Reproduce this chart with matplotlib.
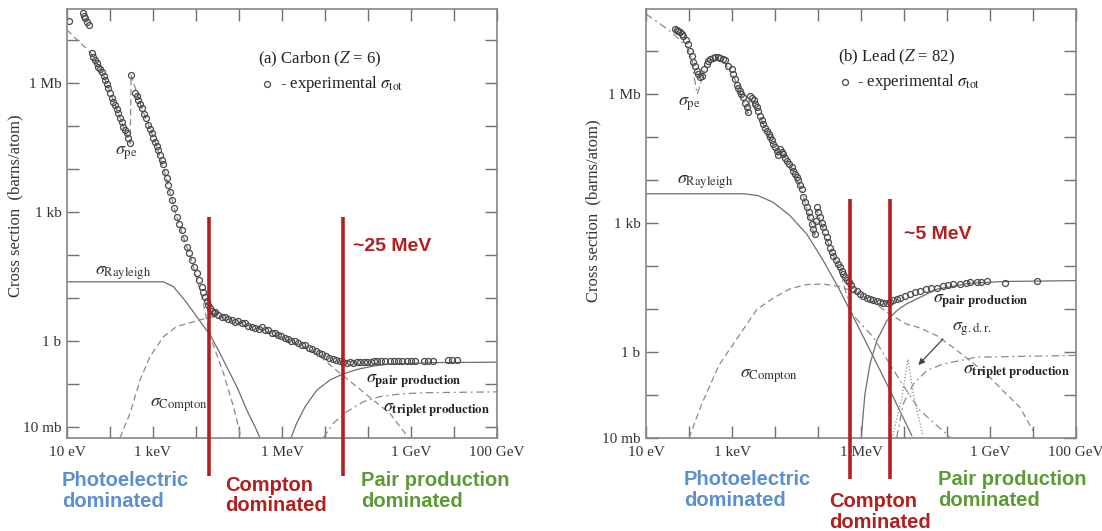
import matplotlib.pyplot as plt
import numpy as np

plt.rcParams['font.family'] = ['Liberation Serif', 'DejaVu Serif']
plt.rcParams['mathtext.fontset'] = 'stix'

# all values are log10(energy / eV) and log10(cross section / barn)

# ---- (a) carbon
c_tot_logE = [1.05, 1.37, 1.40, 1.42, 1.46, 1.50, 1.57, 1.61, 1.65, 1.69,
              1.73, 1.77, 1.81, 1.85, 1.88, 1.92, 1.96, 2.00, 2.04, 2.08,
              2.12, 2.16, 2.19, 2.23, 2.27, 2.31, 2.35, 2.39, 2.43, 2.47,
              2.49, 2.58, 2.62, 2.66, 2.70, 2.74, 2.79, 2.84, 2.89, 2.93,
              2.97, 3.01, 3.05, 3.09, 3.12, 3.16, 3.20, 3.24, 3.28, 3.32,
              3.36, 3.40, 3.44, 3.49, 3.55, 3.61, 3.67, 3.72, 3.78, 3.84,
              3.90, 3.96, 4.02, 4.07, 4.13, 4.17, 4.21, 4.25, 4.29, 4.33,
              4.37, 4.41, 4.45, 4.52, 4.60, 4.68, 4.75, 4.83, 4.90, 4.98,
              5.06, 5.14, 5.22, 5.30, 5.38, 5.46, 5.53, 5.60, 5.68, 5.76,
              5.84, 5.91, 5.98, 6.06, 6.14, 6.22, 6.30, 6.38, 6.46, 6.54,
              6.62, 6.70, 6.78, 6.86, 6.94, 7.02, 7.10, 7.18, 7.26, 7.34,
              7.42, 7.50, 7.58, 7.66, 7.74, 7.82, 7.90, 7.98, 8.06, 8.14,
              8.22, 8.30, 8.40, 8.50, 8.60, 8.70, 8.80, 8.90, 9.00, 9.10,
              9.30, 9.40, 9.50, 9.85, 9.95, 10.06]
c_tot_logS = [7.44, 7.61, 7.55, 7.50, 7.42, 7.34, 6.68, 6.60, 6.53, 6.45,
              6.37, 6.31, 6.26, 6.15, 6.06, 5.96, 5.87, 5.75, 5.64, 5.56,
              5.48, 5.38, 5.29, 5.19, 5.09, 4.98, 4.90, 4.82, 4.71, 4.59,
              6.18, 5.75, 5.68, 5.60, 5.50, 5.40, 5.28, 5.17, 5.02, 4.92,
              4.82, 4.72, 4.63, 4.53, 4.43, 4.32, 4.20, 4.10, 3.92, 3.78,
              3.62, 3.45, 3.27, 3.08, 2.88, 2.72, 2.57, 2.38, 2.19, 2.03,
              1.88, 1.72, 1.57, 1.41, 1.26, 1.14, 1.02, 0.92, 0.83, 0.76,
              0.70, 0.64, 0.66, 0.60, 0.55, 0.56, 0.50, 0.49, 0.44, 0.45,
              0.40, 0.41, 0.35, 0.33, 0.30, 0.28, 0.31, 0.24, 0.25, 0.19,
              0.18, 0.14, 0.12, 0.07, 0.05, 0.00, 0.00, -0.05, -0.09, -0.11,
              -0.16, -0.19, -0.23, -0.28, -0.31, -0.36, -0.40, -0.43, -0.46, -0.48,
              -0.50, -0.51, -0.50, -0.51, -0.50, -0.50, -0.49, -0.49, -0.49, -0.48,
              -0.48, -0.48, -0.47, -0.47, -0.47, -0.47, -0.47, -0.47, -0.47, -0.47,
              -0.47, -0.47, -0.47, -0.45, -0.45, -0.45]

c_pe_logE = [1.0, 1.23, 1.54, 1.81, 2.12, 2.31, 2.47, 2.49, 2.74, 3.05, 3.28, 3.55, 3.90, 4.13, 4.33, 4.64, 4.87, 5.05]
c_pe_logS = [7.23, 7.00, 6.71, 6.26, 5.48, 4.98, 4.59, 6.18, 5.40, 4.63, 3.89, 2.88, 1.85, 1.05, 0.10, -0.76, -1.53, -2.26]

c_ray_logE = [1.0, 3.24, 3.47, 3.70, 3.94, 4.13, 4.33, 4.52, 4.71, 4.95, 5.18, 5.37, 5.49]
c_ray_logS = [1.37, 1.37, 1.26, 0.99, 0.67, 0.40, 0.13, -0.22, -0.60, -1.07, -1.61, -2.00, -2.26]

c_comp_logE = [2.23, 2.47, 2.70, 2.93, 3.24, 3.55, 3.94, 4.33, 4.64, 4.95, 5.26, 5.57, 5.88,
               6.19, 6.50, 6.81, 6.96, 7.35, 7.74, 8.12, 8.51, 8.98]
c_comp_logS = [-2.26, -1.68, -0.91, -0.37, 0.09, 0.33, 0.44, 0.55, 0.54, 0.44, 0.34, 0.24, 0.12,
               -0.02, -0.14, -0.31, -0.43, -0.76, -1.07, -1.38, -1.69, -2.31]

c_pair_logE = [6.19, 6.34, 6.54, 6.81, 7.12, 7.43, 7.74, 8.12, 8.51, 8.98, 9.52, 11.0]
c_pair_logS = [-2.31, -1.92, -1.53, -1.15, -0.91, -0.77, -0.67, -0.59, -0.54, -0.53, -0.51, -0.50]

c_trip_logE = [6.96, 7.19, 7.51, 7.89, 8.28, 8.74, 9.29, 11.0]
c_trip_logS = [-2.26, -1.92, -1.65, -1.42, -1.30, -1.24, -1.21, -1.19]

c_regions = [4.31, 7.43]          # ~20 keV and ~25 MeV

# ---- (b) lead
r_tot_logE = [1.67, 1.71, 1.75, 1.79, 1.83, 1.87, 1.92, 1.98, 2.02, 2.06,
              2.10, 2.14, 2.18, 2.22, 2.26, 2.30, 2.36, 2.41, 2.45, 2.49,
              2.55, 2.61, 2.67, 2.72, 2.78, 2.84, 2.91, 2.99, 3.03, 3.07,
              3.11, 3.15, 3.19, 3.22, 3.26, 3.30, 3.34, 3.38, 3.42, 3.46,
              3.50, 3.54, 3.57, 3.61, 3.65, 3.69, 3.73, 3.77, 3.81, 3.85,
              3.88, 3.92, 3.96, 4.00, 4.04, 4.08, 4.12, 4.16, 4.19, 4.23,
              4.27, 4.33, 4.39, 4.43, 4.47, 4.50, 4.54, 4.58, 4.62, 4.66,
              4.70, 4.74, 4.78, 4.81, 4.85, 4.89, 4.93, 4.95, 4.97, 5.01,
              5.05, 5.09, 5.12, 5.16, 5.20, 5.24, 5.28, 5.32, 5.36, 5.42,
              5.47, 5.51, 5.55, 5.59, 5.63, 5.67, 5.71, 5.76, 5.82, 5.90,
              5.98, 6.05, 6.13, 6.21, 6.29, 6.37, 6.44, 6.52, 6.60, 6.67,
              6.75, 6.83, 6.91, 7.02, 7.14, 7.25, 7.37, 7.50, 7.63, 7.76,
              7.90, 8.02, 8.15, 8.30, 8.45, 8.54, 8.70, 8.80, 8.92, 9.35,
              10.09]
r_tot_logS = [7.51, 7.49, 7.47, 7.44, 7.40, 7.36, 7.26, 7.16, 7.01, 6.88,
              6.74, 6.66, 6.54, 6.47, 6.39, 6.43, 6.58, 6.70, 6.76, 6.81,
              6.84, 6.85, 6.85, 6.84, 6.81, 6.78, 6.66, 6.58, 6.47, 6.35,
              6.20, 6.14, 6.08, 6.00, 5.92, 5.80, 5.69, 5.57, 5.96, 5.90,
              5.85, 5.77, 5.69, 5.60, 5.50, 5.40, 5.30, 5.22, 5.15, 5.07,
              4.99, 4.92, 4.84, 4.76, 4.68, 4.57, 4.72, 4.66, 4.60, 4.52,
              4.45, 4.37, 4.30, 4.22, 4.14, 4.07, 3.99, 3.89, 3.79, 3.60,
              3.48, 3.37, 3.25, 3.13, 2.98, 2.86, 2.74, 3.05, 3.37, 3.25,
              3.13, 3.01, 2.90, 2.78, 2.67, 2.55, 2.43, 2.33, 2.24, 2.14,
              2.05, 1.97, 1.89, 1.81, 1.74, 1.68, 1.62, 1.55, 1.47, 1.41,
              1.35, 1.30, 1.26, 1.23, 1.20, 1.18, 1.16, 1.14, 1.13, 1.16,
              1.20, 1.23, 1.26, 1.30, 1.35, 1.39, 1.43, 1.46, 1.48, 1.50,
              1.53, 1.55, 1.57, 1.59, 1.61, 1.62, 1.63, 1.63, 1.64, 1.60,
              1.64]

r_pe_logE = [1.0, 1.33, 1.64, 1.95, 2.07, 2.12, 2.19, 2.26, 2.41, 2.61, 2.84, 3.07, 3.34, 3.37, 3.42, 3.65,
             3.88, 4.08, 4.12, 4.35, 4.62, 4.85, 4.93, 4.97, 5.20, 5.47, 5.82, 6.29, 6.67, 7.06, 7.37, 8.07]
r_pe_logS = [7.86, 7.63, 7.40, 7.09, 6.81, 6.39, 6.00, 6.20, 6.76, 6.81, 6.71, 6.34, 5.64, 5.50, 5.91, 5.46,
             4.97, 4.53, 4.69, 4.37, 3.76, 2.95, 2.67, 3.32, 2.62, 1.97, 0.85, 0.34, -0.28, -0.90, -1.36, -1.98]

r_ray_logE = [1.0, 3.28, 3.60, 3.96, 4.35, 4.74, 5.12, 5.51, 5.98, 6.60, 7.18]
r_ray_logS = [3.68, 3.68, 3.64, 3.48, 3.17, 2.74, 2.13, 1.43, 0.50, -0.74, -1.94]

r_comp_logE = [2.0, 2.3, 2.7, 3.19, 3.57, 3.95, 4.35, 4.74, 5.12, 5.51, 5.84, 6.28, 6.67, 7.06,
               7.37, 7.76, 8.14, 8.53, 8.92, 9.30, 9.70, 10.0]
r_comp_logS = [-2.0, -1.2, -0.3, 0.42, 0.98, 1.25, 1.47, 1.57, 1.58, 1.52, 1.40, 1.16, 0.88, 0.65,
               0.56, 0.38, 0.11, -0.20, -0.51, -0.90, -1.29, -1.83]

r_pair_logE = [6.01, 6.09, 6.21, 6.37, 6.60, 6.83, 7.06, 7.37, 7.76, 8.53, 9.35, 11.0]
r_pair_logS = [-1.94, -0.98, -0.28, 0.27, 0.73, 0.96, 1.12, 1.27, 1.46, 1.60, 1.64, 1.66]

r_trip_logE = [6.83, 6.98, 7.22, 7.53, 7.91, 8.69, 11.0]
r_trip_logS = [-1.99, -1.21, -0.74, -0.43, -0.28, -0.12, -0.08]

r_gdr_logE = [6.74, 6.95, 7.09, 7.23, 7.44]
r_gdr_logS = [-1.94, -1.05, -0.17, -1.05, -1.94]

r_regions = [5.74, 6.67]          # ~0.5 MeV and ~5 MeV

# axis labels
e_label_pos = [1, 3, 6, 9, 11]
e_label_text = ['10 eV', '1 keV', '1 MeV', '1 GeV', '100 GeV']
s_label_pos = [-2, 0, 3, 6]
s_label_text = ['10 mb', '1 b', '1 kb', '1 Mb']

LINE = '#6e6e6e'
DASH = '#8a8a8a'
RED = '#b02020'
BLUE = '#5b8fd2'
GREEN = '#5c9a34'


def p(v):
    return 10.0 ** np.asarray(v)


def frame(ax, ylo, yhi):
    ax.set_xscale('log')
    ax.set_yscale('log')
    ax.set_xlim(10, 1e11)
    ax.set_ylim(10.0 ** ylo, 10.0 ** yhi)
    xd = np.arange(1, 12)
    ax.set_xticks(p(xd))
    ax.set_xticklabels([e_label_text[e_label_pos.index(d)] if d in e_label_pos else '' for d in xd])
    yd = np.arange(int(np.ceil(ylo)), int(np.floor(yhi)) + 1)
    ax.set_yticks(p(yd))
    ax.set_yticklabels([s_label_text[s_label_pos.index(d)] if d in s_label_pos else '' for d in yd])
    ax.minorticks_off()
    ax.tick_params(axis='both', direction='in', length=8.5, width=1.0, color='#707070',
                   top=True, right=True, labelsize=11, labelcolor='#333333')
    ax.tick_params(axis='x', pad=6)
    ax.tick_params(axis='y', pad=4)
    for s in ax.spines.values():
        s.set_color('#858585')
        s.set_linewidth(1.2)


def curve(ax, e, s, style, color=LINE):
    ax.plot(p(e), p(s), color=color, lw=0.9, linestyle=style)


def points(ax, e, s):
    ax.plot(p(e), p(s), 'o', ms=4.3, mfc='none', mec='#4a4a4a', mew=0.9)


fig = plt.figure(figsize=(11.02, 5.31), dpi=100)
axL = fig.add_axes([67 / 1102, 93 / 531, 430 / 1102, 428.7 / 531])
axR = fig.add_axes([646 / 1102, 93 / 531, 430 / 1102, 428.7 / 531])

dashed = (0, (5, 3))
dashdot = (0, (6, 3, 1.5, 3))
dotted = (0, (1, 1.6))

# ---------------- carbon
frame(axL, -2.263, 7.707)
curve(axL, c_ray_logE, c_ray_logS, '-')
curve(axL, c_pe_logE, c_pe_logS, dashed, DASH)
curve(axL, c_comp_logE, c_comp_logS, dashed, DASH)
curve(axL, c_pair_logE, c_pair_logS, '-')
curve(axL, c_trip_logE, c_trip_logS, dashdot, DASH)
points(axL, c_tot_logE, c_tot_logS)

axL.text(p(5.45), p(6.54), '(a) Carbon ($Z$ = 6)', fontsize=12, va='center', color='#222222')
points(axL, [5.64], [5.98])
axL.text(p(5.95), p(5.98), r'- experimental $\sigma_{\rm tot}$', fontsize=12, va='center', color='#222222')

axL.text(p(2.12), p(4.35), r'$\sigma_{\rm pe}$', fontsize=13, va='center', color='#333333')
axL.text(p(1.66), p(1.57), r'$\sigma_{\rm Rayleigh}$', fontsize=13, va='center', color='#333333')
axL.text(p(2.93), p(-1.50), r'$\sigma_{\rm Compton}$', fontsize=13, va='center', color='#333333')
axL.text(p(7.95), p(-0.94), r'$\sigma_{\mathbf{pair\ production}}$', fontsize=13, va='center', color='#222222')
axL.text(p(8.35), p(-1.62), r'$\sigma_{\mathbf{triplet\ production}}$', fontsize=13, va='center', color='#222222')

axL.text(-0.119, p(3.15), 'Cross section  (barns/atom)', transform=axL.get_yaxis_transform(),
         rotation=90, ha='center', va='center', fontsize=12, color='#333333')

for x in c_regions:
    axL.plot([p(x), p(x)], [p(2.88), p(-3.15)], color=RED, lw=2.6, clip_on=False,
             solid_capstyle='butt', zorder=5)
axL.text(p(7.64), p(2.19), '~25 MeV', fontsize=14, fontweight='bold', color=RED,
         family='Liberation Sans', va='center')

axL.text(p(0.88), p(-3.49), 'Photoelectric\ndominated', fontsize=14.5, fontweight='bold', color=BLUE,
         family='Liberation Sans', va='center', linespacing=1.1)
axL.text(p(4.67), p(-3.60), 'Compton\ndominated', fontsize=14.5, fontweight='bold', color=RED,
         family='Liberation Sans', va='center', linespacing=1.1)
axL.text(p(7.84), p(-3.49), 'Pair production\ndominated', fontsize=14.5, fontweight='bold', color=GREEN,
         family='Liberation Sans', va='center', linespacing=1.1)

# ---------------- lead
frame(axR, -2.0, 7.97)
curve(axR, r_ray_logE, r_ray_logS, '-')
curve(axR, r_pe_logE, r_pe_logS, dashdot, DASH)
curve(axR, r_comp_logE, r_comp_logS, dashed, DASH)
curve(axR, r_pair_logE, r_pair_logS, '-')
curve(axR, r_trip_logE, r_trip_logS, dashdot, DASH)
curve(axR, r_gdr_logE, r_gdr_logS, dotted, DASH)
points(axR, r_tot_logE, r_tot_logS)

axR.text(p(5.46), p(6.85), '(b) Lead ($Z$ = 82)', fontsize=12, va='center', color='#222222')
points(axR, [5.62], [6.27])
axR.text(p(5.90), p(6.27), r'- experimental $\sigma_{\rm tot}$', fontsize=12, va='center', color='#222222')

axR.text(p(1.75), p(5.77), r'$\sigma_{\rm pe}$', fontsize=13, va='center', color='#333333')
axR.text(p(1.72), p(3.95), r'$\sigma_{\rm Rayleigh}$', fontsize=13, va='center', color='#333333')
axR.text(p(3.19), p(-0.57), r'$\sigma_{\rm Compton}$', fontsize=13, va='center', color='#333333')
axR.text(p(7.68), p(1.18), r'$\sigma_{\mathbf{pair\ production}}$', fontsize=13, va='center', color='#222222')
axR.text(p(8.12), p(0.52), r'$\sigma_{\rm g.d.r.}$', fontsize=13, va='center', color='#333333')
axR.text(p(8.38), p(-0.48), r'$\sigma_{\mathbf{triplet\ production}}$', fontsize=13, va='center', color='#222222')
axR.annotate('', xy=(p(7.29), p(-0.35)), xytext=(p(7.95), p(0.35)),
             arrowprops=dict(arrowstyle='-|>', color='#444444', lw=0.9, mutation_scale=9))

axR.text(-0.123, p(3.29), 'Cross section  (barns/atom)', transform=axR.get_yaxis_transform(),
         rotation=90, ha='center', va='center', fontsize=12, color='#333333')

for x in r_regions:
    axR.plot([p(x), p(x)], [p(3.56), p(-2.95)], color=RED, lw=2.6, clip_on=False,
             solid_capstyle='butt', zorder=5)
axR.text(p(6.99), p(2.74), '~5 MeV', fontsize=14, fontweight='bold', color=RED,
         family='Liberation Sans', va='center')

axR.text(p(1.88), p(-3.21), 'Photoelectric\ndominated', fontsize=14.5, fontweight='bold', color=BLUE,
         family='Liberation Sans', va='center', linespacing=1.1)
axR.text(p(5.26), p(-3.72), 'Compton\ndominated', fontsize=14.5, fontweight='bold', color=RED,
         family='Liberation Sans', va='center', linespacing=1.1)
axR.text(p(7.80), p(-3.21), 'Pair production\ndominated', fontsize=14.5, fontweight='bold', color=GREEN,
         family='Liberation Sans', va='center', linespacing=1.1)

fig.savefig('out.png', dpi=100)
